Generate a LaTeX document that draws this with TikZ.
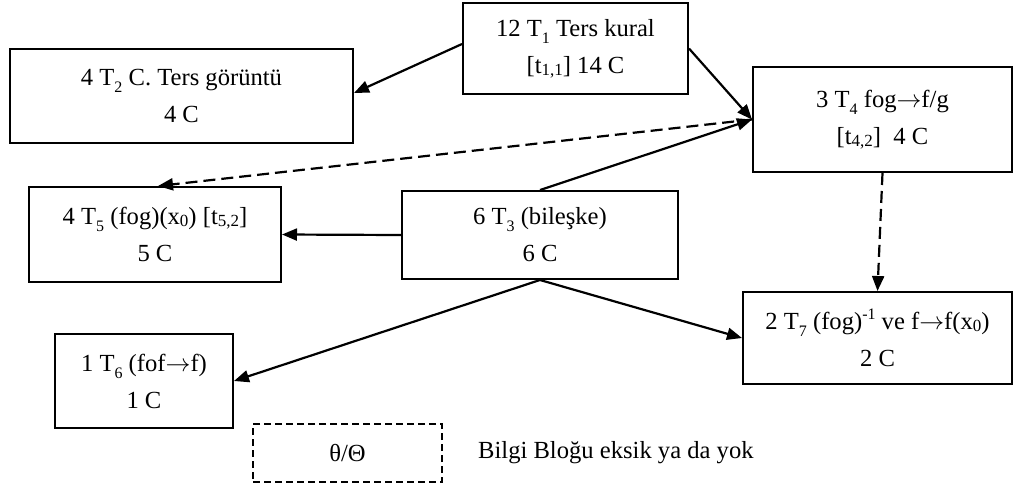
\documentclass[tikz,border=0pt]{standalone}
\usepackage{fontspec}
\setmainfont{Liberation Serif}
\usetikzlibrary{arrows.meta}

% lowered index after a capital T
\newcommand{\tsub}[1]{\raisebox{-7pt}{\fontsize{16}{16}\selectfont #1}}
% small index sitting just under the baseline
\newcommand{\lsub}[1]{\raisebox{-2pt}{\fontsize{17}{17}\selectfont #1}}
% small exponent
\newcommand{\lsup}[1]{\raisebox{10pt}{\fontsize{16}{16}\selectfont #1}}
% full-width arrow between function names
\newcommand{\fto}{\(\rightarrow\)}

\begin{document}
\begin{tikzpicture}[x=1pt,y=-1pt,
  every node/.style={font=\fontsize{24.6}{37}\selectfont},
  block/.style={draw, line width=2pt, rectangle, align=center, inner sep=0pt},
  link/.style={line width=2.2pt, -{Triangle[length=15pt,width=12pt]}},
  dlink/.style={link, dash pattern=on 12pt off 6pt},
  legendbox/.style={draw, line width=2pt, dash pattern=on 7pt off 4pt, align=center, inner sep=0pt}
]
\useasboundingbox (0,0) rectangle (1015,488);

\node[block, minimum width=225pt, minimum height=91pt] (t1) at (575.5,48.5)
  {12 T\tsub{1} Ters kural\\{}[t\lsub{1,1}] 14 C};
\node[block, minimum width=343pt, minimum height=94pt] (t2) at (181.5,96)
  {4 T\tsub{2} C. Ters görüntü\\4 C};
\node[block, minimum width=259pt, minimum height=105pt] (t4) at (882.5,119.5)
  {3 T\tsub{4} fog\fto f/g\\{}[t\lsub{4,2}]\ \ 4 C};
\node[block, minimum width=252pt, minimum height=95pt] (t5) at (155,234.5)
  {4 T\tsub{5} (fog)(x\lsub{0}) [t\lsub{5,2}]\\5 C};
\node[block, minimum width=276pt, minimum height=88pt] (t3) at (540,235)
  {6 T\tsub{3} (bileşke)\\6 C};
\node[block, minimum width=269pt, minimum height=92pt] (t7) at (877.5,338)
  {2 T\tsub{7} (fog)\lsup{-1} ve f\fto f(x\lsub{0})\\2 C};
\node[block, minimum width=178pt, minimum height=94pt] (t6) at (144,381)
  {1 T\tsub{6} (fof\fto f)\\1 C};

\node[legendbox, minimum width=189pt, minimum height=58pt] (lg) at (347.5,453) {θ/Θ};
\node[anchor=west, inner sep=0pt] (lgtext) at (478,453) {Bilgi Bloğu eksik ya da yok};

\draw[link] ([yshift=4.5pt]t1.west) -- ([yshift=3pt]t2.east);
\draw[link] (t1.east) -- (t4.west);
\draw[link] (t3.north) -- (t4.west);
\draw[dlink] (t4.west) -- ([xshift=3pt]t5.north);
\draw[link] (t3.west) -- (t5.east);
\draw[link] (t3.south) -- (t6.east);
\draw[link] (t3.south) -- (t7.west);
\draw[dlink] (t4.south) -- (t7.north);
\end{tikzpicture}
\end{document}
